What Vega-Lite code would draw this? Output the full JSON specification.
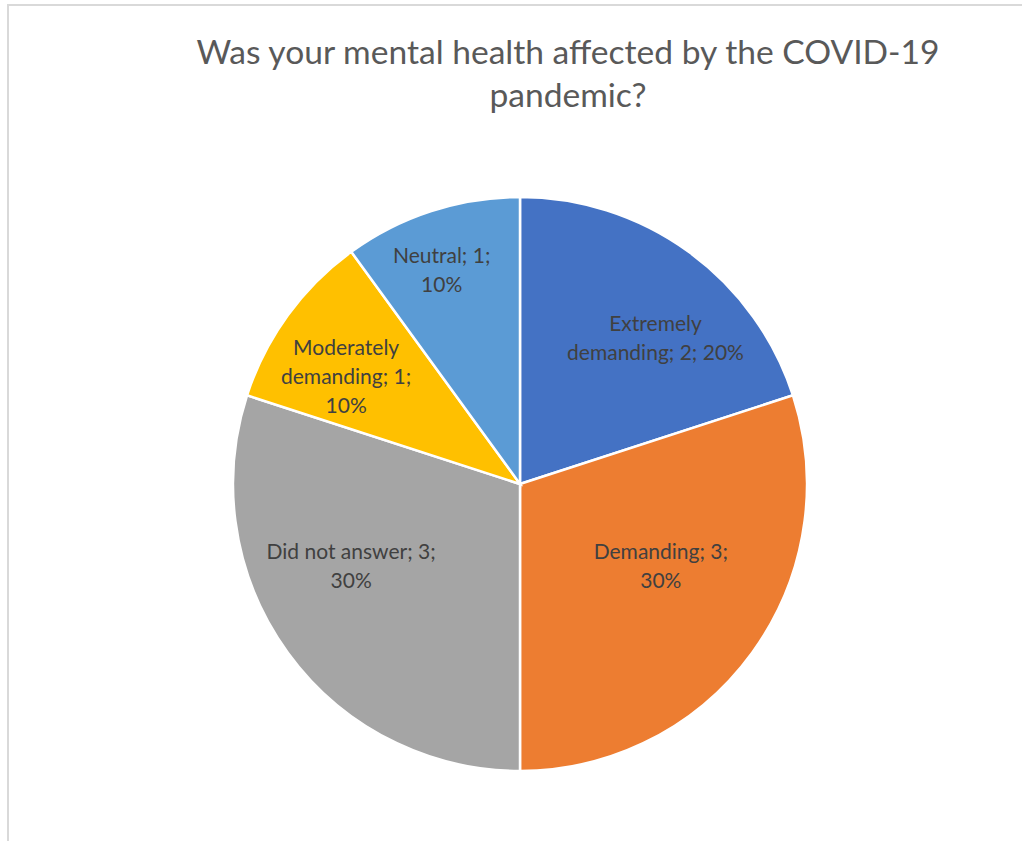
{
  "$schema": "https://vega.github.io/schema/vega-lite/v6.json",
  "autosize": "none",
  "padding": {"left": 8, "top": 5, "right": 0, "bottom": 0},
  "width": 1024,
  "height": 958,
  "background": "white",
  "view": {"stroke": "#d9d9d9", "strokeWidth": 2},
  "title": {
    "text": ["Was your mental health affected by the COVID-19", "pandemic?"],
    "orient": "top",
    "anchor": "middle",
    "frame": "group",
    "offset": -109,
    "dx": 48,
    "font": "Lato",
    "fontSize": 33.6,
    "fontWeight": "normal",
    "color": "#595959",
    "lineHeight": 43
  },
  "data": {
    "values": [
      {"idx": 1, "category": "Extremely demanding", "count": 2, "label": "Extremely\ndemanding; 2; 20%"},
      {"idx": 2, "category": "Demanding", "count": 3, "label": "Demanding; 3;\n30%"},
      {"idx": 3, "category": "Did not answer", "count": 3, "label": "Did not answer; 3;\n30%"},
      {"idx": 4, "category": "Moderately demanding", "count": 1, "label": "Moderately\ndemanding; 1;\n10%"},
      {"idx": 5, "category": "Neutral", "count": 1, "label": "Neutral; 1;\n10%"}
    ]
  },
  "encoding": {
    "theta": {"field": "count", "type": "quantitative", "stack": true},
    "order": {"field": "idx", "type": "quantitative"},
    "color": {
      "field": "category",
      "type": "nominal",
      "scale": {
        "domain": ["Extremely demanding", "Demanding", "Did not answer", "Moderately demanding", "Neutral"],
        "range": ["#4472C4", "#ED7D31", "#A5A5A5", "#FFC000", "#5B9BD5"]
      },
      "legend": null
    }
  },
  "layer": [
    {
      "mark": {"type": "arc", "outerRadius": 287, "stroke": "white", "strokeWidth": 2.5}
    },
    {
      "mark": {"type": "text", "font": "Lato", "fontSize": 21, "lineHeight": 29, "lineBreak": "\n", "align": "center", "baseline": "middle", "dx": 15, "dy": 7},
      "encoding": {"text": {"condition": {"test": "datum.idx == 1", "field": "label"}, "value": ""}, "radius": {"value": 205}, "color": {"value": "#404040"}}
    },
    {
      "mark": {"type": "text", "font": "Lato", "fontSize": 21, "lineHeight": 29, "lineBreak": "\n", "align": "center", "baseline": "middle", "dx": -25, "dy": -51},
      "encoding": {"text": {"condition": {"test": "datum.idx == 2", "field": "label"}, "value": ""}, "radius": {"value": 205}, "color": {"value": "#404040"}}
    },
    {
      "mark": {"type": "text", "font": "Lato", "fontSize": 21, "lineHeight": 29, "lineBreak": "\n", "align": "center", "baseline": "middle", "dx": -3, "dy": -51},
      "encoding": {"text": {"condition": {"test": "datum.idx == 3", "field": "label"}, "value": ""}, "radius": {"value": 205}, "color": {"value": "#404040"}}
    },
    {
      "mark": {"type": "text", "font": "Lato", "fontSize": 21, "lineHeight": 29, "lineBreak": "\n", "align": "center", "baseline": "middle", "dx": -8, "dy": -15},
      "encoding": {"text": {"condition": {"test": "datum.idx == 4", "field": "label"}, "value": ""}, "radius": {"value": 205}, "color": {"value": "#404040"}}
    },
    {
      "mark": {"type": "text", "font": "Lato", "fontSize": 21, "lineHeight": 29, "lineBreak": "\n", "align": "center", "baseline": "middle", "dx": -15, "dy": -32},
      "encoding": {"text": {"condition": {"test": "datum.idx == 5", "field": "label"}, "value": ""}, "radius": {"value": 205}, "color": {"value": "#404040"}}
    }
  ]
}
